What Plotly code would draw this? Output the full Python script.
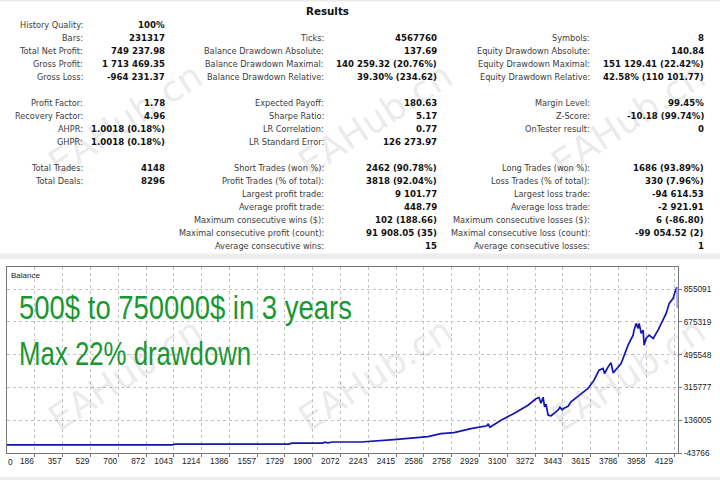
import plotly.graph_objects as go

# ---------------- data ----------------
trade_no = [0, 1035, 1049, 1753, 1771, 1963, 1975, 1993, 2024, 2197, 2401, 2611, 2691, 2771,
            2876, 2975, 2981, 2993, 3061, 3141, 3228, 3277, 3296, 3308, 3321, 3330, 3339, 3352,
            3370, 3389, 3413, 3425, 3438, 3450, 3475, 3493, 3555, 3598, 3635, 3666, 3691, 3700,
            3722, 3740, 3753, 3802, 3845, 3876, 3882, 3895, 3907, 3913, 3926, 3938, 3944, 3956,
            3975, 4000, 4030, 4061, 4080, 4099, 4123, 4135, 4146, 4148]
balance = [500, 500, 5000, 5000, 10600, 10600, 16000, 12000, 16600, 16600, 29800, 46300, 62800, 68300,
           90200, 105600, 116600, 97400, 135800, 172600, 218200, 253800, 260400, 229100, 262100, 208800, 223600, 163200,
           160500, 172600, 190700, 207200, 193400, 201700, 212700, 236300, 282400, 309900, 355400, 410300, 419700, 392200,
           428500, 450400, 395500, 447100, 547600, 602500, 630000, 666800, 639300, 666800, 611900, 630000, 547600, 584400,
           602500, 584400, 630000, 684900, 721700, 776600, 804000, 840300, 866000, 749738]

x_tick_vals = [186, 357, 529, 700, 872, 1043, 1214, 1386, 1557, 1729, 1900, 2072, 2243, 2415,
               2586, 2758, 2929, 3100, 3272, 3443, 3615, 3786, 3958, 4129]
y_tick_vals = [-43766, 136005, 315777, 495548, 675319, 855091]

col1_labels = ["History Quality:", "Bars:", "Total Net Profit:", "Gross Profit:", "Gross Loss:", "",
               "Profit Factor:", "Recovery Factor:", "AHPR:", "GHPR:", "", "Total Trades:", "Total Deals:"]
col1_values = ["100%", "231317", "749 237.98", "1 713 469.35", "-964 231.37", "",
               "1.78", "4.96", "1.0018 (0.18%)", "1.0018 (0.18%)", "", "4148", "8296"]
col2_labels = ["", "Ticks:", "Balance Drawdown Absolute:", "Balance Drawdown Maximal:", "Balance Drawdown Relative:", "",
               "Expected Payoff:", "Sharpe Ratio:", "LR Correlation:", "LR Standard Error:", "",
               "Short Trades (won %):", "Profit Trades (% of total):", "Largest profit trade:", "Average profit trade:",
               "Maximum consecutive wins ($):", "Maximal consecutive profit (count):", "Average consecutive wins:"]
col2_values = ["", "4567760", "137.69", "140 259.32 (20.76%)", "39.30% (234.62)", "",
               "180.63", "5.17", "0.77", "126 273.97", "",
               "2462 (90.78%)", "3818 (92.04%)", "9 101.77", "448.79", "102 (188.66)", "91 908.05 (35)", "15"]
col3_labels = ["", "Symbols:", "Equity Drawdown Absolute:", "Equity Drawdown Maximal:", "Equity Drawdown Relative:", "",
               "Margin Level:", "Z-Score:", "OnTester result:", "", "",
               "Long Trades (won %):", "Loss Trades (% of total):", "Largest loss trade:", "Average loss trade:",
               "Maximum consecutive losses ($):", "Maximal consecutive loss (count):", "Average consecutive losses:"]
col3_values = ["", "8", "140.84", "151 129.41 (22.42%)", "42.58% (110 101.77)", "",
               "99.45%", "-10.18 (99.74%)", "0", "", "",
               "1686 (93.89%)", "330 (7.96%)", "-94 614.53", "-2 921.91", "6 (-86.80)", "-99 054.52 (2)", "1"]

title_text = "Results"
chart_name = "Balance"
headline = ["500$ to 750000$ in 3 years", "Max 22% drawdown"]
watermark = "EAHub.cn"

# ---------------- layout helpers ----------------
W, H = 720, 480
PL, PR, PT, PB = 7, 678, 267, 453


def xp(px):
    return (px - PL) / (PR - PL)


def yp(py):
    return (PB - py) / (PB - PT)


def ann(px, py, s, size, color, family, xanchor="right", bold=False, angle=0):
    return dict(x=xp(px), y=yp(py), xref="paper", yref="paper", text=s, showarrow=False,
                xanchor=xanchor, yanchor="middle", textangle=angle,
                borderpad=0, borderwidth=0,
                font=dict(size=size, color=color, family=family, weight="bold" if bold else "normal"))


annotations = []
# watermarks first (drawn underneath other text)
for cx in (125, 375, 628):
    for cy in (119, 374):
        annotations.append(ann(cx, cy, watermark, 36, "rgba(130,130,130,0.18)", "DejaVu Sans",
                               xanchor="center", angle=-33))

annotations.append(ann(327, 10.5, title_text, 10.3, "#111111", "DejaVu Sans", xanchor="center", bold=True))

ROW0, PITCH = 24.6, 13.05
LBL_FONT, VAL_FONT = 8.2, 8.6
cols = [(col1_labels, col1_values, 83, 164.5),
        (col2_labels, col2_values, 323.5, 437.5),
        (col3_labels, col3_values, 590, 703.5)]
for labels, values, lx, vx in cols:
    for i, (lab, val) in enumerate(zip(labels, values)):
        y = ROW0 + PITCH * i
        if lab:
            annotations.append(ann(lx, y, lab, LBL_FONT, "#3c3c3c", "DejaVu Sans"))
        if val:
            annotations.append(ann(vx, y, val, VAL_FONT, "#111111", "DejaVu Sans", bold=True))

annotations.append(ann(10.5, 275.5, chart_name, 8, "#222222", "Liberation Sans", xanchor="left"))
green_font = "Liberation Sans"
annotations.append(ann(19, 307.2, headline[0], 33.5, "#1a9632", green_font, xanchor="left"))
annotations.append(ann(19, 353.5, headline[1], 33.5, "#1a9632", green_font, xanchor="left"))
annotations.append(ann(8, 462, "0", 8.3, "#222222", "Liberation Sans", xanchor="left"))

shapes = [
    dict(type="rect", xref="paper", yref="paper", x0=xp(0), x1=xp(W), y0=yp(0), y1=yp(1.5),
         fillcolor="#ececec", line=dict(width=0), layer="below"),
    dict(type="rect", xref="paper", yref="paper", x0=xp(0), x1=xp(W), y0=yp(253.5), y1=yp(259),
         fillcolor="#ededed", line=dict(width=0), layer="below"),
    dict(type="rect", xref="paper", yref="paper", x0=xp(0), x1=xp(W), y0=yp(477), y1=yp(480),
         fillcolor="#ececec", line=dict(width=0), layer="below"),
]

fig = go.Figure()
fig.add_trace(go.Scatter(x=trade_no[:-1], y=balance[:-1], mode="lines",
                         line=dict(color="#1515b0", width=1.7), hoverinfo="skip"))
fig.add_trace(go.Scatter(x=trade_no[-2:], y=balance[-2:], mode="lines",
                         line=dict(color="#7d7df0", width=1.2), hoverinfo="skip"))

axis_common = dict(showgrid=True, gridcolor="#c4c4c4", griddash="dot", gridwidth=1,
                   showline=True, mirror=True, linecolor="#777777", linewidth=1,
                   ticks="outside", ticklen=3, tickcolor="#777777", zeroline=False,
                   tickfont=dict(size=8.3, family="Liberation Sans", color="#222222"))

fig.update_layout(
    width=W, height=H,
    margin=dict(l=PL, r=W - PR, t=PT, b=H - PB, pad=0),
    paper_bgcolor="white", plot_bgcolor="white",
    showlegend=False,
    xaxis=dict(range=[14.5, 4153], tickvals=x_tick_vals, ticktext=[str(v) for v in x_tick_vals],
               ticklabelposition="outside left", tickangle=0, **axis_common),
    yaxis=dict(range=[-43766, 976000], tickvals=y_tick_vals, ticktext=[str(v) for v in y_tick_vals],
               side="right", **axis_common),
    annotations=annotations,
    shapes=shapes,
)

# page margin off, and horizontally condense the headline text (narrow font look)
post_js = """
document.body.style.margin = '0px';
function squeeze() {
  var texts = document.querySelectorAll('text.annotation-text');
  texts.forEach(function (t) {
    var s = t.textContent || '';
    var k = 0;
    if (s.indexOf('500$') === 0) { k = 0.82; }
    if (s.indexOf('Max 22%') === 0) { k = 0.77; }
    if (k) {
      var bb = t.getBBox();
      var x0 = bb.x;
      t.setAttribute('transform', 'translate(' + x0 + ',0) scale(' + k + ',1) translate(' + (-x0) + ',0)');
    }
  });
}
squeeze();
var gd = document.getElementsByClassName('plotly-graph-div')[0];
if (gd && gd.on) { gd.on('plotly_afterplot', squeeze); }
"""

fig.write_html("out.html", post_script=post_js, config={"displayModeBar": False})
